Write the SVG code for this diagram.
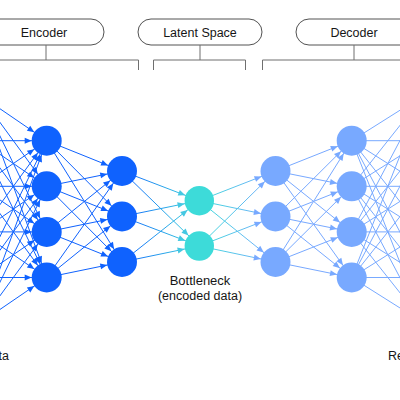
<svg xmlns="http://www.w3.org/2000/svg" width="400" height="400" viewBox="0 0 400 400">
<style>
.pill{fill:#ffffff;stroke:#525252;stroke-width:1}
.brk{fill:none;stroke:#6f6f6f;stroke-width:1}
.lbl{font-family:"Liberation Sans","Noto Sans",Arial,sans-serif;font-size:12.5px;fill:#161616}
.e{stroke:#0F62FE;stroke-width:1;marker-end:url(#ah-enc)}
.b1{stroke:url(#g1);stroke-width:1;marker-end:url(#ah-teal)}
.b2{stroke:url(#g2);stroke-width:1;marker-end:url(#ah-dec)}
.d{stroke:#78A9FF;stroke-width:1;marker-end:url(#ah-dec)}
.ne{fill:#0F62FE}
.nb{fill:#3DDBD9}
.nd{fill:#78A9FF}
</style>
<defs>
<marker id="ah-enc" markerUnits="userSpaceOnUse" markerWidth="1" markerHeight="1" orient="auto" refX="0" refY="0" style="overflow:visible"><path d="M-22,-3 L-15,0 L-22,3 z" fill="#0F62FE"/></marker>
<marker id="ah-teal" markerUnits="userSpaceOnUse" markerWidth="1" markerHeight="1" orient="auto" refX="0" refY="0" style="overflow:visible"><path d="M-22,-3 L-15,0 L-22,3 z" fill="#45C8E2"/></marker>
<marker id="ah-dec" markerUnits="userSpaceOnUse" markerWidth="1" markerHeight="1" orient="auto" refX="0" refY="0" style="overflow:visible"><path d="M-22,-3 L-15,0 L-22,3 z" fill="#78A9FF"/></marker>
<linearGradient id="g1" gradientUnits="userSpaceOnUse" x1="122" y1="0" x2="199" y2="0"><stop offset="0" stop-color="#0F62FE"/><stop offset="1" stop-color="#3DDBD9"/></linearGradient>
<linearGradient id="g2" gradientUnits="userSpaceOnUse" x1="199" y1="0" x2="275" y2="0"><stop offset="0" stop-color="#3DDBD9"/><stop offset="1" stop-color="#78A9FF"/></linearGradient>
</defs>

<g id="header-encoder">
<rect class="pill" x="-16" y="19" width="120" height="26" rx="13"/>
<text class="lbl" x="44" y="36.5" text-anchor="middle">Encoder</text>
<path class="brk" d="M46,45 V60 M-5,60 H138.5 V70"/>
</g>
<g id="header-latent">
<rect class="pill" x="138" y="19" width="124" height="26" rx="13"/>
<text class="lbl" x="200" y="36.5" text-anchor="middle">Latent Space</text>
<path class="brk" d="M200,45 V60 M153.5,70 V60 H245.5 V70"/>
</g>
<g id="header-decoder">
<rect class="pill" x="296" y="19" width="120" height="26" rx="13"/>
<text class="lbl" x="354" y="36.5" text-anchor="middle">Decoder</text>
<path class="brk" d="M354,45 V60 M262.5,70 V60 H405"/>
</g>

<g id="connectors">
<line class="e" x1="-20" y1="95.1" x2="46.7" y2="140.7"/>
<line class="e" x1="-20" y1="95.1" x2="46.7" y2="186.3"/>
<line class="e" x1="-20" y1="95.1" x2="46.7" y2="231.9"/>
<line class="e" x1="-20" y1="95.1" x2="46.7" y2="277.5"/>
<line class="e" x1="-20" y1="140.7" x2="46.7" y2="140.7"/>
<line class="e" x1="-20" y1="140.7" x2="46.7" y2="186.3"/>
<line class="e" x1="-20" y1="140.7" x2="46.7" y2="231.9"/>
<line class="e" x1="-20" y1="140.7" x2="46.7" y2="277.5"/>
<line class="e" x1="-20" y1="186.3" x2="46.7" y2="140.7"/>
<line class="e" x1="-20" y1="186.3" x2="46.7" y2="186.3"/>
<line class="e" x1="-20" y1="186.3" x2="46.7" y2="231.9"/>
<line class="e" x1="-20" y1="186.3" x2="46.7" y2="277.5"/>
<line class="e" x1="-20" y1="231.9" x2="46.7" y2="140.7"/>
<line class="e" x1="-20" y1="231.9" x2="46.7" y2="186.3"/>
<line class="e" x1="-20" y1="231.9" x2="46.7" y2="231.9"/>
<line class="e" x1="-20" y1="231.9" x2="46.7" y2="277.5"/>
<line class="e" x1="-20" y1="277.5" x2="46.7" y2="140.7"/>
<line class="e" x1="-20" y1="277.5" x2="46.7" y2="186.3"/>
<line class="e" x1="-20" y1="277.5" x2="46.7" y2="231.9"/>
<line class="e" x1="-20" y1="277.5" x2="46.7" y2="277.5"/>
<line class="e" x1="-20" y1="323.1" x2="46.7" y2="140.7"/>
<line class="e" x1="-20" y1="323.1" x2="46.7" y2="186.3"/>
<line class="e" x1="-20" y1="323.1" x2="46.7" y2="231.9"/>
<line class="e" x1="-20" y1="323.1" x2="46.7" y2="277.5"/>

<line class="e" x1="46.7" y1="140.7" x2="122" y2="171"/>
<line class="e" x1="46.7" y1="140.7" x2="122" y2="216.5"/>
<line class="e" x1="46.7" y1="140.7" x2="122" y2="262"/>
<line class="e" x1="46.7" y1="186.3" x2="122" y2="171"/>
<line class="e" x1="46.7" y1="186.3" x2="122" y2="216.5"/>
<line class="e" x1="46.7" y1="186.3" x2="122" y2="262"/>
<line class="e" x1="46.7" y1="231.9" x2="122" y2="171"/>
<line class="e" x1="46.7" y1="231.9" x2="122" y2="216.5"/>
<line class="e" x1="46.7" y1="231.9" x2="122" y2="262"/>
<line class="e" x1="46.7" y1="277.5" x2="122" y2="171"/>
<line class="e" x1="46.7" y1="277.5" x2="122" y2="216.5"/>
<line class="e" x1="46.7" y1="277.5" x2="122" y2="262"/>

<line class="b1" x1="122" y1="171" x2="199.3" y2="200.7"/>
<line class="b1" x1="122" y1="171" x2="199.3" y2="246"/>
<line class="b1" x1="122" y1="216.5" x2="199.3" y2="200.7"/>
<line class="b1" x1="122" y1="216.5" x2="199.3" y2="246"/>
<line class="b1" x1="122" y1="262" x2="199.3" y2="200.7"/>
<line class="b1" x1="122" y1="262" x2="199.3" y2="246"/>

<line class="b2" x1="199.3" y1="200.7" x2="275.5" y2="171"/>
<line class="b2" x1="199.3" y1="200.7" x2="275.5" y2="216.5"/>
<line class="b2" x1="199.3" y1="200.7" x2="275.5" y2="262"/>
<line class="b2" x1="199.3" y1="246" x2="275.5" y2="171"/>
<line class="b2" x1="199.3" y1="246" x2="275.5" y2="216.5"/>
<line class="b2" x1="199.3" y1="246" x2="275.5" y2="262"/>

<line class="d" x1="275.5" y1="171" x2="351.7" y2="140.7"/>
<line class="d" x1="275.5" y1="171" x2="351.7" y2="186.3"/>
<line class="d" x1="275.5" y1="171" x2="351.7" y2="231.9"/>
<line class="d" x1="275.5" y1="171" x2="351.7" y2="277.5"/>
<line class="d" x1="275.5" y1="216.5" x2="351.7" y2="140.7"/>
<line class="d" x1="275.5" y1="216.5" x2="351.7" y2="186.3"/>
<line class="d" x1="275.5" y1="216.5" x2="351.7" y2="231.9"/>
<line class="d" x1="275.5" y1="216.5" x2="351.7" y2="277.5"/>
<line class="d" x1="275.5" y1="262" x2="351.7" y2="140.7"/>
<line class="d" x1="275.5" y1="262" x2="351.7" y2="186.3"/>
<line class="d" x1="275.5" y1="262" x2="351.7" y2="231.9"/>
<line class="d" x1="275.5" y1="262" x2="351.7" y2="277.5"/>

<line class="d" x1="351.7" y1="140.7" x2="424" y2="95.1"/>
<line class="d" x1="351.7" y1="140.7" x2="424" y2="140.7"/>
<line class="d" x1="351.7" y1="140.7" x2="424" y2="186.3"/>
<line class="d" x1="351.7" y1="140.7" x2="424" y2="231.9"/>
<line class="d" x1="351.7" y1="140.7" x2="424" y2="277.5"/>
<line class="d" x1="351.7" y1="140.7" x2="424" y2="323.1"/>
<line class="d" x1="351.7" y1="186.3" x2="424" y2="95.1"/>
<line class="d" x1="351.7" y1="186.3" x2="424" y2="140.7"/>
<line class="d" x1="351.7" y1="186.3" x2="424" y2="186.3"/>
<line class="d" x1="351.7" y1="186.3" x2="424" y2="231.9"/>
<line class="d" x1="351.7" y1="186.3" x2="424" y2="277.5"/>
<line class="d" x1="351.7" y1="186.3" x2="424" y2="323.1"/>
<line class="d" x1="351.7" y1="231.9" x2="424" y2="95.1"/>
<line class="d" x1="351.7" y1="231.9" x2="424" y2="140.7"/>
<line class="d" x1="351.7" y1="231.9" x2="424" y2="186.3"/>
<line class="d" x1="351.7" y1="231.9" x2="424" y2="231.9"/>
<line class="d" x1="351.7" y1="231.9" x2="424" y2="277.5"/>
<line class="d" x1="351.7" y1="231.9" x2="424" y2="323.1"/>
<line class="d" x1="351.7" y1="277.5" x2="424" y2="95.1"/>
<line class="d" x1="351.7" y1="277.5" x2="424" y2="140.7"/>
<line class="d" x1="351.7" y1="277.5" x2="424" y2="186.3"/>
<line class="d" x1="351.7" y1="277.5" x2="424" y2="231.9"/>
<line class="d" x1="351.7" y1="277.5" x2="424" y2="277.5"/>
<line class="d" x1="351.7" y1="277.5" x2="424" y2="323.1"/>
</g>

<g id="enc1-1"><circle class="ne" cx="46.7" cy="140.7" r="15"/></g>
<g id="enc1-2"><circle class="ne" cx="46.7" cy="186.3" r="15"/></g>
<g id="enc1-3"><circle class="ne" cx="46.7" cy="231.9" r="15"/></g>
<g id="enc1-4"><circle class="ne" cx="46.7" cy="277.5" r="15"/></g>
<g id="enc2-1"><circle class="ne" cx="122" cy="171" r="15"/></g>
<g id="enc2-2"><circle class="ne" cx="122" cy="216.5" r="15"/></g>
<g id="enc2-3"><circle class="ne" cx="122" cy="262" r="15"/></g>
<g id="latent-1"><circle class="nb" cx="199.3" cy="200.7" r="14.7"/></g>
<g id="latent-2"><circle class="nb" cx="199.3" cy="246" r="14.7"/></g>
<g id="dec1-1"><circle class="nd" cx="275.5" cy="171" r="15"/></g>
<g id="dec1-2"><circle class="nd" cx="275.5" cy="216.5" r="15"/></g>
<g id="dec1-3"><circle class="nd" cx="275.5" cy="262" r="15"/></g>
<g id="dec2-1"><circle class="nd" cx="351.7" cy="140.7" r="15"/></g>
<g id="dec2-2"><circle class="nd" cx="351.7" cy="186.3" r="15"/></g>
<g id="dec2-3"><circle class="nd" cx="351.7" cy="231.9" r="15"/></g>
<g id="dec2-4"><circle class="nd" cx="351.7" cy="277.5" r="15"/></g>

<g id="labels">
<text class="lbl" x="200" y="285" text-anchor="middle" style="font-size:13px">Bottleneck</text>
<text class="lbl" x="200" y="300" text-anchor="middle">(encoded data)</text>
<text class="lbl" x="9" y="360" text-anchor="end">Input data</text>
<text class="lbl" x="388" y="360">Reconstructed data</text>
</g>
</svg>
